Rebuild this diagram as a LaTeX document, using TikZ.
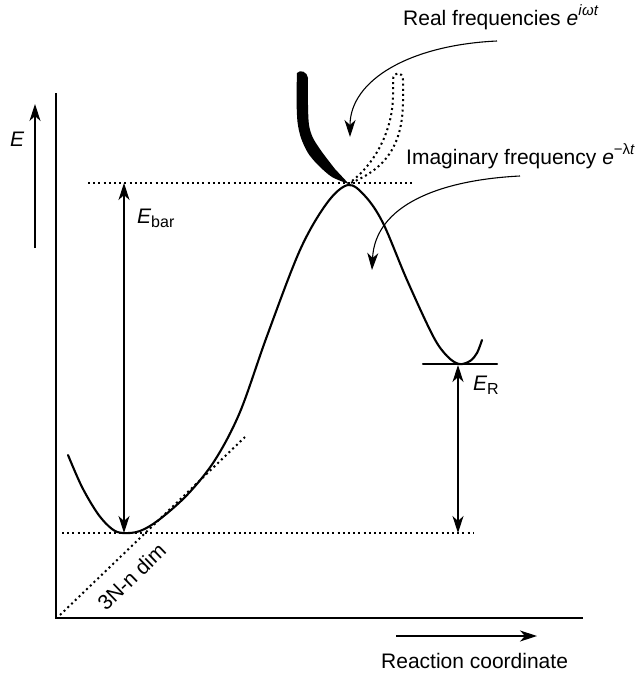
\documentclass[tikz,border=0pt]{standalone}
\usepackage{fontspec}
\setmainfont{Liberation Sans}
\usetikzlibrary{arrows.meta}
\begin{document}
\begin{tikzpicture}[x=1pt,y=-1pt,
  axisline/.style={line width=2.4pt},
  pes/.style={line width=2.1pt, line join=round, line cap=round},
  dotline/.style={line width=2pt, dash pattern=on 2pt off 3.2pt},
  tipA/.tip={Stealth[length=17pt,width=11pt,inset=5pt]},
  dimarrow/.style={line width=1.1pt, tipA-tipA},
  onearrow/.style={line width=1.1pt, -tipA},
  lbl/.style={inner sep=0pt, anchor=base west, font=\fontsize{21}{25}\selectfont}]
\useasboundingbox (0,0) rectangle (641,678);

% axes
\coordinate (ytop) at (56,93);
\coordinate (origin) at (56,618);
\coordinate (xend) at (583,618);
\draw[axisline] (ytop) -- (origin) -- (xend);

% energy arrow
\coordinate (Ebot) at (35,248);
\coordinate (Etop) at (35,104);
\draw[onearrow] (Ebot) -- (Etop);
\node[lbl] (Elbl) at (10,146) {\itshape E};

% reaction coordinate arrow
\coordinate (rcs) at (396,636);
\coordinate (rce) at (537,636);
\draw[onearrow] (rcs) -- (rce);
\node[lbl] (rclbl) at (381,668) {Reaction coordinate};

% dotted reference lines
\coordinate (topL) at (88,183);
\coordinate (topR) at (415,183);
\draw[dotline] (topL) -- (topR);
\coordinate (botL) at (62,533);
\coordinate (botR) at (473,533);
\draw[dotline] (botL) -- (botR);

% tangent dotted line
\coordinate (tanA) at (60,615);
\coordinate (tanB) at (245,437);
\draw[dotline] (tanA) -- (tanB);
\node[lbl, rotate=44] (dimlbl) at (106,612) {3N-n dim};

% barrier arrow
\coordinate (barTop) at (124,183);
\coordinate (barBot) at (124,533);
\draw[dimarrow] (barTop) -- (barBot);
\node[lbl] (Ebar) at (137,223) {{\itshape E}\raisebox{-0.22em}{\fontsize{16}{16}\selectfont bar}};

% reaction energy
\coordinate (erL) at (423,364);
\coordinate (erR) at (497,364);
\draw[pes] (erL) -- (erR);
\coordinate (erTop) at (458,365);
\coordinate (erBot) at (458,533);
\draw[dimarrow] (erTop) -- (erBot);
\node[lbl] (ER) at (473,390) {{\itshape E}\raisebox{-0.22em}{\fontsize{16}{16}\selectfont R}};

% potential energy curve
\draw[pes] plot[smooth, tension=0.55] coordinates {
 (68,455) (82,487) (98,514) (112,529) (123,533) (140,531) (160,519)
 (188,494) (215,460) (240,412) (267,336) (300,250)
 (327,203) (348,185) (365,196) (383,223)
 (407,280) (433,336) (447,356) (459,364) (470,361)
 (477,353) (482,340)};

% thick black real-frequency shape
\fill plot[smooth] coordinates {(297,73) (296.5,98) (297.5,122) (301,138) (308,153) (318,165) (332,177) (349,184)}
  -- plot[smooth] coordinates {(335,169) (322,152) (313,138) (309,125) (308,105) (308,78)}
  .. controls (307.5,72) and (300,69) .. (297,73) -- cycle;

% dotted hairpin
\coordinate (ts) at (348,184);
\draw[dotline] (ts) .. controls (375,165) and (393,130) .. (393,95) -- (393,80)
  .. controls (393,71) and (403,71) .. (403,80) -- (403,95)
  .. controls (404,140) and (390,168) .. (ts);

% real frequencies label and arrow
\node[lbl] (reallbl) at (403,25) {Real frequencies \textit{e}\raisebox{0.45em}{\fontsize{15}{15}\selectfont\itshape i\kern0.5pt ωt}};
\coordinate (rs) at (497,41);
\coordinate (rt) at (350,137);
\draw[onearrow] (rs) .. controls (410,45) and (350,80) .. (rt);

% imaginary frequency label and arrow
\node[lbl] (imlbl) at (406,164) {Imaginary frequency \textit{e}\raisebox{0.45em}{\fontsize{15}{15}\selectfont −λ\textit{t}}};
\coordinate (is) at (520,176);
\coordinate (it) at (372,270);
\draw[onearrow] (is) .. controls (440,180) and (375,205) .. (it);
\end{tikzpicture}
\end{document}
